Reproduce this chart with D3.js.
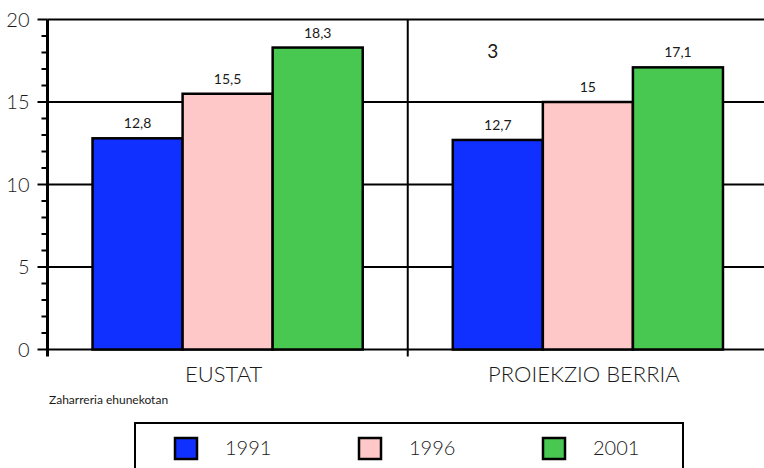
<!DOCTYPE html>
<html>
<head>
<meta charset="utf-8">
<script src="https://cdn.jsdelivr.net/npm/d3@7"></script>
<style>
  body { margin: 0; background: #fff; }
  text { font-family: Lato, "DejaVu Sans", sans-serif; font-weight: 300; fill: #1a1a1a; }
  text.val, text.note { font-weight: 400; }
</style>
</head>
<body>
<svg id="chart"></svg>
<script>
// data
var categories = ["EUSTAT", "PROIEKZIO BERRIA"];
var years = ["1991", "1996", "2001"];
var values1991 = [12.8, 12.7];
var values1996 = [15.5, 15];
var values2001 = [18.3, 17.1];
var yTicks = [0, 5, 10, 15, 20];
var colors = ["#1030ff", "#ffc8c8", "#48c850"];
var note = "Zaharreria ehunekotan";
var strayLabel = "3";

var width = 764, height = 468;
var margin = {top: 19.5, left: 47.5, bottom: 118.5};

var rows = categories.map(function(c, i) {
    return {name: c, vals: [values1991[i], values1996[i], values2001[i]]};
});

var svg = d3.select("#chart")
    .attr("width", width)
    .attr("height", height);

var x = d3.scaleBand()
    .domain(categories)
    .range([margin.left, margin.left + 720.5]);

var xi = d3.scaleBand()
    .domain(years)
    .range([0, x.bandwidth()])
    .paddingOuter(0.5)
    .paddingInner(0);

var y = d3.scaleLinear()
    .domain([0, 20])
    .range([height - margin.bottom, margin.top]);

var fmt = function(v) { return String(v).replace(".", ","); };

// gridlines
svg.append("g")
    .selectAll("line")
    .data(yTicks)
    .enter().append("line")
    .attr("x1", margin.left)
    .attr("x2", width)
    .attr("y1", d => y(d))
    .attr("y2", d => y(d))
    .attr("stroke", "#000")
    .attr("stroke-width", 2);

// divider between groups
svg.append("line")
    .attr("x1", x(categories[1]))
    .attr("x2", x(categories[1]))
    .attr("y1", y(20))
    .attr("y2", y(0) + 7)
    .attr("stroke", "#000")
    .attr("stroke-width", 2);

// bars
var groups = svg.append("g")
    .selectAll("g")
    .data(rows)
    .enter().append("g")
    .attr("transform", d => `translate(${x(d.name)},0)`);

groups.selectAll("rect")
    .data(d => d.vals.map((v, j) => ({year: years[j], value: v, color: colors[j]})))
    .enter().append("rect")
    .attr("x", d => xi(d.year))
    .attr("y", d => y(d.value))
    .attr("width", xi.bandwidth())
    .attr("height", d => y(0) - y(d.value))
    .attr("fill", d => d.color)
    .attr("stroke", "#000")
    .attr("stroke-width", 2.5);

groups.selectAll("text")
    .data(d => d.vals.map((v, j) => ({year: years[j], value: v})))
    .enter().append("text")
    .attr("class", "val")
    .attr("x", d => xi(d.year) + xi.bandwidth() / 2)
    .attr("y", d => y(d.value) - 10)
    .attr("text-anchor", "middle")
    .style("font-size", "14px")
    .text(d => fmt(d.value));

// stray label in second group
svg.append("text")
    .attr("class", "val")
    .attr("x", x(categories[1]) + 85)
    .attr("y", 58)
    .attr("text-anchor", "middle")
    .style("font-size", "19px")
    .text(strayLabel);

// y axis
var ya = svg.append("g")
    .attr("transform", `translate(${margin.left},0)`);

ya.append("line")
    .attr("y1", y(20))
    .attr("y2", y(0) + 7)
    .attr("stroke", "#000")
    .attr("stroke-width", 3);

ya.selectAll(".tick")
    .data(d3.range(0, 21, 1))
    .enter().append("line")
    .attr("class", "tick")
    .attr("x1", d => d % 5 == 0 ? -10 : -6)
    .attr("x2", 0)
    .attr("y1", d => y(d))
    .attr("y2", d => y(d))
    .attr("stroke", "#000")
    .attr("stroke-width", 2);

ya.selectAll(".lab")
    .data(yTicks)
    .enter().append("text")
    .attr("class", "lab")
    .attr("x", -18)
    .attr("y", d => y(d))
    .attr("dy", "0.36em")
    .attr("text-anchor", "end")
    .style("font-size", "20px")
    .text(d => d);

// category labels
svg.append("g")
    .selectAll("text")
    .data(categories)
    .enter().append("text")
    .attr("x", d => x(d) + x.bandwidth() / 2 - 4)
    .attr("y", 382)
    .attr("text-anchor", "middle")
    .style("font-size", "22px")
    .text(d => d);

svg.append("text")
    .attr("class", "note")
    .attr("x", 49)
    .attr("y", 404)
    .style("font-size", "12px")
    .text(note);

// legend
var legend = svg.append("g");
legend.append("rect")
    .attr("x", 135)
    .attr("y", 423)
    .attr("width", 548)
    .attr("height", 60)
    .attr("fill", "none")
    .attr("stroke", "#000")
    .attr("stroke-width", 2);

var lx = d3.scalePoint()
    .domain(years)
    .range([175, 543]);

var items = legend.selectAll("g.item")
    .data(years)
    .enter().append("g")
    .attr("class", "item")
    .attr("transform", d => `translate(${lx(d)},438)`);

items.append("rect")
    .attr("width", 22)
    .attr("height", 21)
    .attr("fill", (d, i) => colors[i])
    .attr("stroke", "#000")
    .attr("stroke-width", 2.5);

items.append("text")
    .attr("x", 50)
    .attr("y", 17)
    .style("font-size", "20px")
    .text(d => d);
</script>
</body>
</html>
